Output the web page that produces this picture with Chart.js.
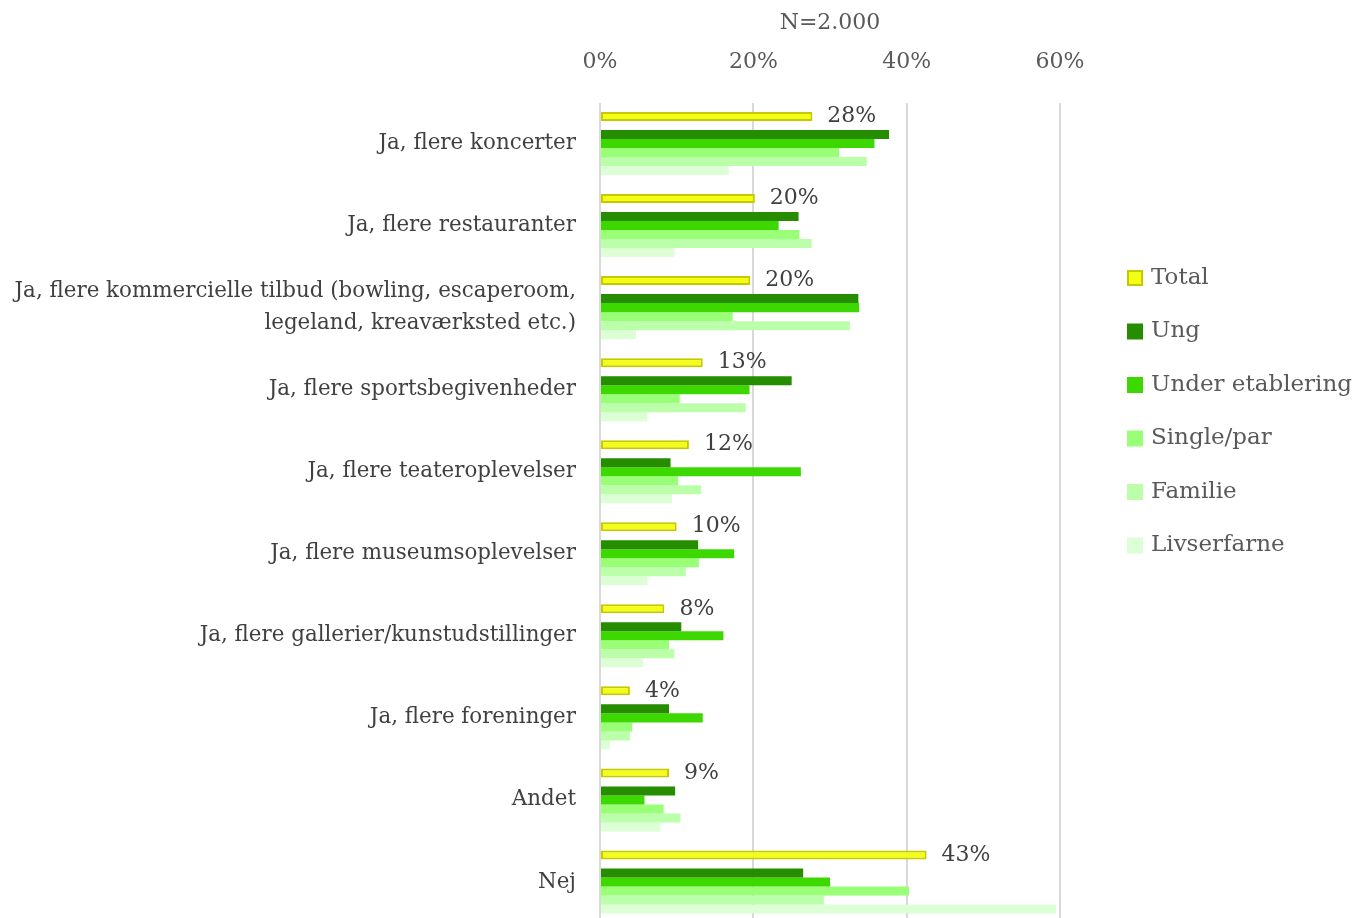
<!DOCTYPE html>
<html>
<head>
<meta charset="utf-8">
<script src="https://cdn.jsdelivr.net/npm/chart.js@4.4.1/dist/chart.umd.min.js"></script>
<style>
    html, body { margin: 0; padding: 0; background: #fff; overflow: hidden; }
    canvas { display: block; }
</style>
</head>
<body>
<canvas id="svar-chart" width="1357" height="923"></canvas>
<script>
const categories = [
    'Ja, flere koncerter',
    'Ja, flere restauranter',
    ['Ja, flere kommercielle tilbud (bowling, escaperoom,', 'legeland, kreaværksted etc.)'],
    'Ja, flere sportsbegivenheder',
    'Ja, flere teateroplevelser',
    'Ja, flere museumsoplevelser',
    'Ja, flere gallerier/kunstudstillinger',
    'Ja, flere foreninger',
    'Andet',
    'Nej'
];
const total = [27.7, 20.2, 19.6, 13.4, 11.6, 10.0, 8.4, 3.9, 9.0, 42.6];
const ung = [37.7, 25.9, 33.7, 25.0, 9.2, 12.8, 10.6, 9.0, 9.8, 26.5];
const underEtablering = [35.8, 23.3, 33.8, 19.5, 26.2, 17.5, 16.1, 13.4, 5.8, 30.0];
const singlePar = [31.2, 26.0, 17.3, 10.4, 10.2, 12.9, 9.0, 4.2, 8.3, 40.3];
const familie = [34.8, 27.6, 32.6, 19.0, 13.2, 11.2, 9.7, 3.9, 10.5, 29.2];
const livserfarne = [16.8, 9.7, 4.7, 6.2, 9.4, 6.2, 5.6, 1.3, 7.9, 59.5];
const xTicks = [0, 20, 40, 60];

const FONT = 'DejaVu Serif';

const series = [
    {label: 'Total', data: total, color: '#F2FF14', border: '#C8C800'},
    {label: '', data: [], color: 'rgba(0,0,0,0)', border: null},   // tom plads under Total
    {label: 'Ung', data: ung, color: '#268C00', border: null},
    {label: 'Under etablering', data: underEtablering, color: '#3CD800', border: null},
    {label: 'Single/par', data: singlePar, color: '#99FF77', border: null},
    {label: 'Familie', data: familie, color: '#BBFFAA', border: null},
    {label: 'Livserfarne', data: livserfarne, color: '#DDFFD6', border: null}
];

const totalLabels = {
    id: 'totalLabels',
    afterDatasetsDraw(chart) {
        const ctx = chart.ctx;
        const meta = chart.getDatasetMeta(0);
        ctx.save();
        ctx.font = '22px "' + FONT + '"';
        ctx.fillStyle = '#404040';
        ctx.textBaseline = 'middle';
        ctx.textAlign = 'left';
        meta.data.forEach((bar, i) => {
            ctx.fillText(Math.round(total[i]) + '%', bar.x + 15, bar.y);
        });
        ctx.restore();
    }
};

const sideLegend = {
    id: 'sideLegend',
    afterDraw(chart) {
        const ctx = chart.ctx;
        let y = 278;
        ctx.save();
        ctx.font = '23px "' + FONT + '"';
        ctx.textBaseline = 'middle';
        series.forEach(s => {
            if (!s.label) return;
            ctx.fillStyle = s.color;
            ctx.fillRect(1127, y - 8, 16, 16);
            if (s.border) {
                ctx.strokeStyle = s.border;
                ctx.lineWidth = 2;
                ctx.strokeRect(1128, y - 7, 14, 14);
            }
            ctx.fillStyle = '#595959';
            ctx.fillText(s.label, 1151, y);
            y += 53.5;
        });
        ctx.restore();
    }
};

const svarChartField = document.getElementById('svar-chart');
const svarChart = new Chart(svarChartField, {
        type: 'bar',
        data: {
            labels: categories,
            datasets: series.map(s => ({
                label: s.label,
                data: s.data,
                backgroundColor: s.color,
                borderColor: s.border || s.color,
                borderWidth: s.border ? 2 : 0,
                borderSkipped: false,
                categoryPercentage: 0.768,
                barPercentage: 1
            }))
        },
        options: {
            indexAxis: 'y',
            responsive: false,
            animation: false,
            layout: {
                padding: {top: 0, right: 297, bottom: 0, left: 0}
            },
            plugins: {
                legend: {display: false},
                tooltip: {enabled: false}
            },
            scales: {
                x: {
                    position: 'top',
                    min: 0,
                    max: 60,
                    afterBuildTicks: scale => {
                        scale.ticks = xTicks.map(v => ({value: v}));
                    },
                    afterFit: scale => {
                        scale.height = 102.5;
                    },
                    ticks: {
                        callback: v => v + '%',
                        color: '#595959',
                        font: {family: FONT, size: 22},
                        padding: 27
                    },
                    grid: {
                        color: '#D9D9D9',
                        lineWidth: 2,
                        drawTicks: false
                    },
                    border: {display: false},
                    title: {
                        display: true,
                        text: 'N=2.000',
                        color: '#595959',
                        font: {family: FONT, size: 22},
                        padding: {top: 10, bottom: 4}
                    }
                },
                y: {
                    afterFit: scale => {
                        scale.width = 600;
                        scale.paddingTop = 0;
                        scale.paddingBottom = 0;
                    },
                    ticks: {
                        color: '#404040',
                        font: {family: FONT, size: 21.4, lineHeight: 1.5},
                        padding: 24
                    },
                    grid: {display: false, drawTicks: false},
                    border: {display: false}
                }
            }
        },
        plugins: [totalLabels, sideLegend]
    }
);
</script>
</body>
</html>
